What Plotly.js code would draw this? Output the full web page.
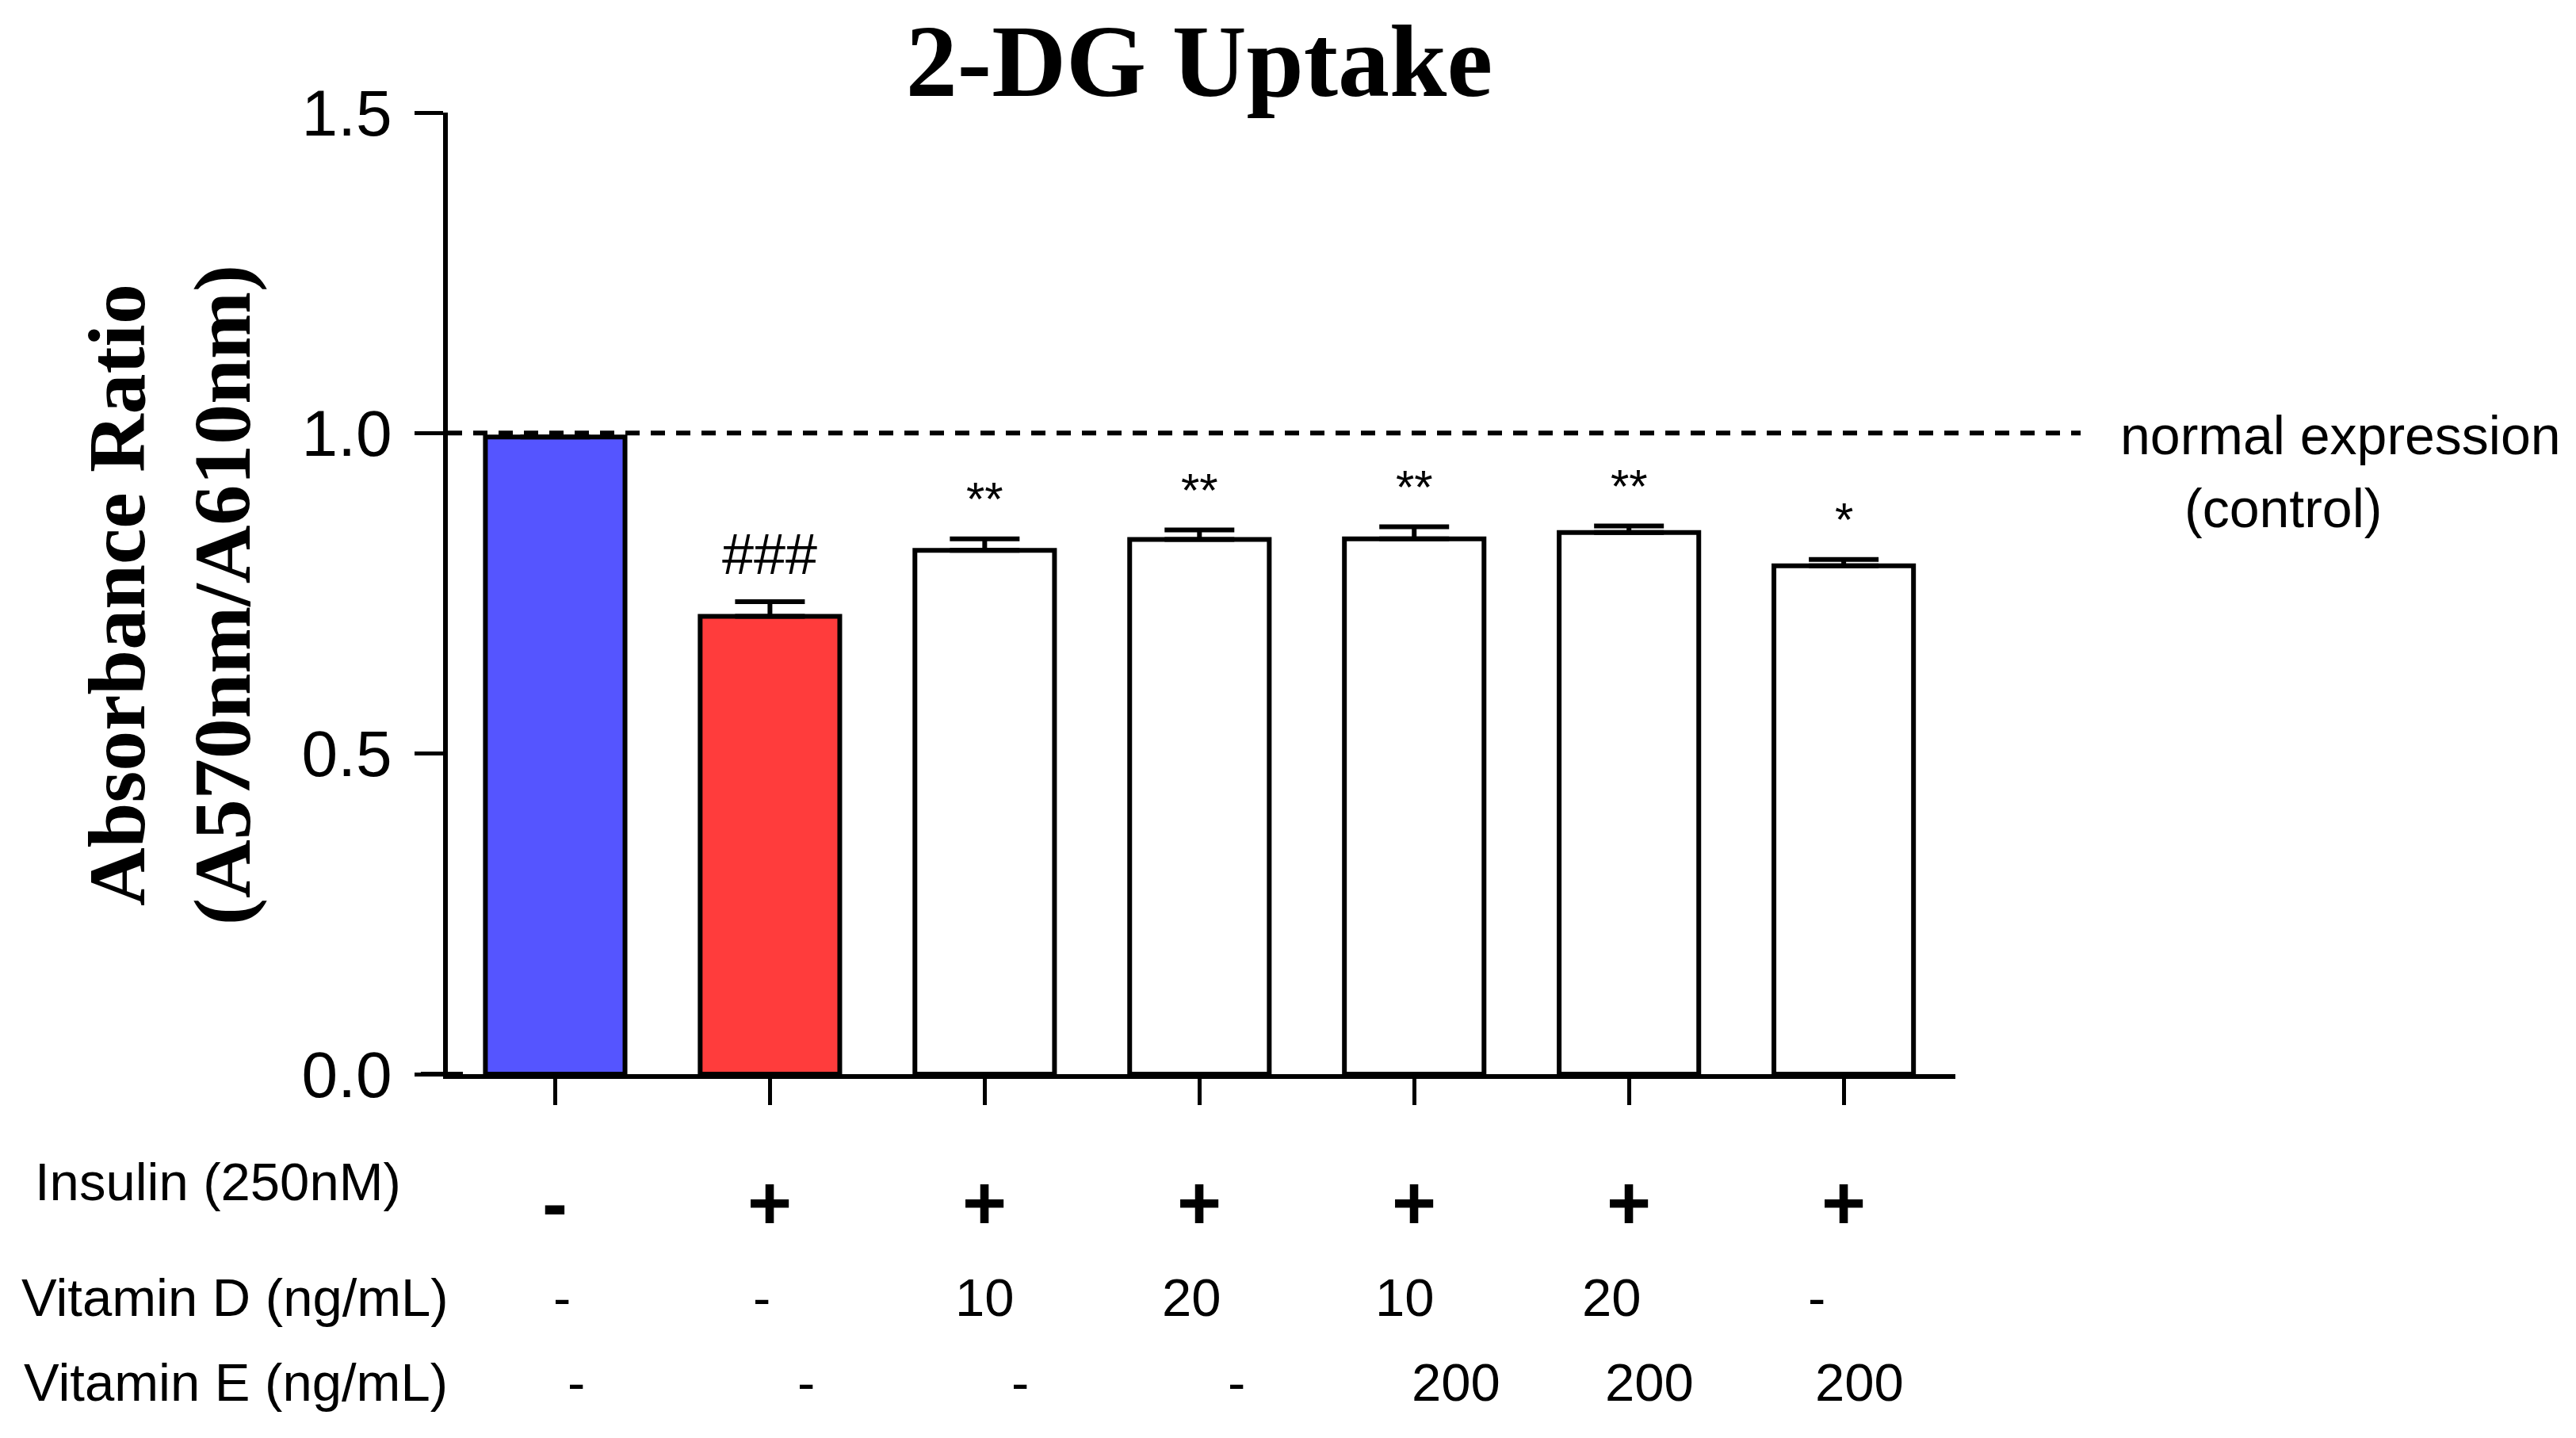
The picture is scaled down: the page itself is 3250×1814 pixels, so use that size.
<!DOCTYPE html>
<html>
<head>
<meta charset="utf-8">
<script src="https://cdn.plot.ly/plotly-3.0.1.min.js"></script>
<style>body{margin:0;background:#fff}</style>
</head>
<body>
<div id="chart" style="width:3250px;height:1814px"></div>
<script>
// values
var groups = ['Control', 'Insulin', 'Ins+VD10', 'Ins+VD20', 'Ins+VD10+VE200', 'Ins+VD20+VE200', 'Ins+VE200'];
var uptake = [0.994, 0.714, 0.817, 0.834, 0.835, 0.845, 0.793];
var sem = [0, 0.023, 0.018, 0.015, 0.019, 0.010, 0.010];
var signif = ['', '###', '**', '**', '**', '**', '*'];
var insulinRow = ['-', '+', '+', '+', '+', '+', '+'];
var vitDRow = ['-', '-', '10', '20', '10', '20', '-'];
var vitERow = ['-', '-', '-', '-', '200', '200', '200'];
var rowNames = ['Insulin (250nM)', 'Vitamin D (ng/mL)', 'Vitamin E (ng/mL)'];
var controlLevel = 1.0;

var barColors = ['#5555FF', '#FF3C3C', '#FFFFFF', '#FFFFFF', '#FFFFFF', '#FFFFFF', '#FFFFFF'];
var sans = 'Liberation Sans, Arial, sans-serif';
var serif = 'Liberation Serif, Times New Roman, serif';

// plot box in page pixels, used to place the free text
var L = 565, R = 2467, T = 142, B = 1355;
function px(x) { return (x - L) / (R - L); }
function py(y) { return (B - y) / (B - T); }

// small horizontal nudges of the condition table (px)
var vitDShift = [9, -10, 0, -10, -12, -22, -34];
var vitEShift = [27, 46, 45, 47, 53, 26, 20];

var bars = {
  x: groups,
  y: uptake,
  type: 'bar',
  width: 0.65,
  marker: {color: barColors, line: {color: 'black', width: 6}},
  error_y: {
    type: 'data',
    symmetric: false,
    array: sem,
    arrayminus: sem.map(function() { return 0; }),
    color: 'black',
    thickness: 6,
    width: 44
  },
  hoverinfo: 'x+y'
};

var annotations = [];

groups.forEach(function(g, i) {
  if (signif[i]) {
    var isHash = signif[i].charAt(0) === '#';
    annotations.push({
      x: g, y: uptake[i] + sem[i], xref: 'x', yref: 'y',
      text: signif[i], showarrow: false, yanchor: 'middle',
      yshift: isHash ? 60 : 50,
      font: {family: sans, size: isHash ? 72 : 60, color: 'black'}
    });
  }
  annotations.push({
    x: g, y: py(1517), xref: 'x', yref: 'paper', text: insulinRow[i],
    showarrow: false, yanchor: 'middle',
    font: {family: sans, size: 96, color: 'black', weight: 'bold'}
  });
  annotations.push({
    x: g, y: py(1636), xref: 'x', yref: 'paper', text: vitDRow[i],
    showarrow: false, yanchor: 'middle', xshift: vitDShift[i],
    font: {family: sans, size: 67, color: 'black'}
  });
  annotations.push({
    x: g, y: py(1743), xref: 'x', yref: 'paper', text: vitERow[i],
    showarrow: false, yanchor: 'middle', xshift: vitEShift[i],
    font: {family: sans, size: 67, color: 'black'}
  });
});

var rowPos = [[42, 1491], [25, 1636], [28, 1743]];
rowNames.forEach(function(name, k) {
  annotations.push({
    x: px(rowPos[k][0]), y: py(rowPos[k][1]), xref: 'paper', yref: 'paper',
    text: name, showarrow: false, xanchor: 'left', yanchor: 'middle',
    font: {family: sans, size: 67, color: 'black'}
  });
});

// y axis title as a rotated two-line label
annotations.push({
  x: px(214), y: py(751), xref: 'paper', yref: 'paper',
  text: 'Absorbance Ratio<br>(A570nm/A610nm)', textangle: -90,
  showarrow: false, xanchor: 'center', yanchor: 'middle',
  font: {family: serif, size: 102, color: 'black', weight: 'bold'}
});

annotations.push({
  x: px(2673), y: py(549), xref: 'paper', yref: 'paper',
  text: 'normal expression', showarrow: false, xanchor: 'left', yanchor: 'middle',
  font: {family: sans, size: 68, color: 'black'}
});
annotations.push({
  x: px(2754), y: py(641), xref: 'paper', yref: 'paper',
  text: '(control)', showarrow: false, xanchor: 'left', yanchor: 'middle',
  font: {family: sans, size: 68, color: 'black'}
});

var layout = {
  width: 3250,
  height: 1814,
  margin: {l: L, r: 3250 - R, t: T, b: 1814 - B, pad: 0},
  paper_bgcolor: 'white',
  plot_bgcolor: 'white',
  showlegend: false,
  title: {
    text: '2-DG Uptake',
    x: px(1513), xref: 'paper', xanchor: 'center',
    y: 1 - 75 / 1814, yref: 'container', yanchor: 'middle',
    font: {family: serif, size: 130, color: 'black', weight: 'bold'}
  },
  xaxis: {
    type: 'category',
    range: [-0.5, 6.52],
    showline: true, linecolor: 'black', linewidth: 6,
    ticks: 'outside', ticklen: 33, tickwidth: 5, tickcolor: 'black',
    showticklabels: false, showgrid: false, zeroline: false, fixedrange: true
  },
  yaxis: {
    range: [0, 1.5],
    tickvals: [0, 0.5, 1.0, 1.5],
    tickformat: '.1f',
    showline: true, linecolor: 'black', linewidth: 6,
    ticks: 'outside', ticklen: 36, tickwidth: 5, tickcolor: 'black',
    ticklabelstandoff: 12,
    tickfont: {family: sans, size: 82, color: 'black'},
    showgrid: false, zeroline: false, fixedrange: true
  },
  shapes: [
    {
      type: 'line', xref: 'paper', yref: 'y',
      x0: 0, x1: px(2625), y0: controlLevel, y1: controlLevel,
      line: {color: 'black', width: 6, dash: '18px,14px'},
      layer: 'above'
    },
    {
      type: 'line', xref: 'paper', yref: 'paper',
      x0: px(531), x1: 0.01, y0: 0, y1: 0, ysizemode: 'pixel', yanchor: 0,
      line: {color: 'black', width: 6}
    }
  ],
  annotations: annotations
};

Plotly.newPlot('chart', [bars], layout, {displayModeBar: false, staticPlot: true});
</script>
</body>
</html>
